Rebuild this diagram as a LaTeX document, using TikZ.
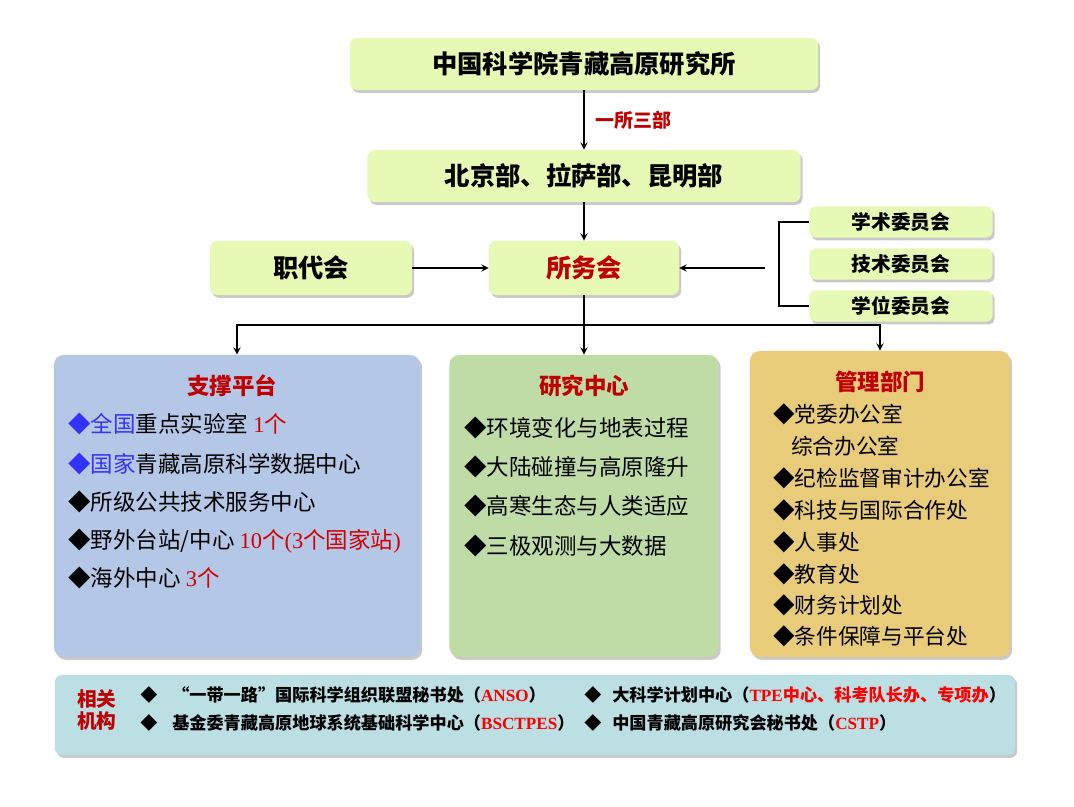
\documentclass[tikz,border=0pt]{standalone}
\usepackage{fontspec}
\setmainfont{Noto Sans CJK SC}
\newfontfamily\tnr{Liberation Serif}
\usetikzlibrary{shadows}
\definecolor{boxgreen}{RGB}{230,250,182}
\definecolor{platblue}{RGB}{180,199,231}
\definecolor{resgreen}{RGB}{192,220,166}
\definecolor{mgold}{RGB}{233,204,122}
\definecolor{linkcyan}{RGB}{188,223,227}
\definecolor{darkred}{RGB}{192,0,0}
\definecolor{numred}{RGB}{210,0,0}
\definecolor{brightred}{RGB}{255,0,0}
\definecolor{itemblue}{RGB}{51,51,255}
\begin{document}
\begin{tikzpicture}[x=0.025cm, y=-0.025cm,
		boxshadow/.style={drop shadow={shadow xshift=1.5pt, shadow yshift=-2pt, opacity=0.35, fill=black!60}},
		gbox/.style={fill=boxgreen, rounded corners=5pt, boxshadow, inner sep=0pt, font=\bfseries\fontsize{18}{20}\selectfont},
		cbox/.style={fill=boxgreen, rounded corners=4pt, boxshadow, inner sep=0pt, minimum width=4.575cm, minimum height=0.78cm, font=\bfseries\fontsize{14}{16}\selectfont},
		bigbox/.style={rounded corners=7pt, boxshadow, inner sep=0pt},
		boxtitle/.style={text=darkred, font=\bfseries\fontsize{16}{18}\selectfont},
		item/.style={anchor=west, inner sep=0pt, font=\fontsize{16}{18}\selectfont},
		mitem/.style={anchor=west, inner sep=0pt, font=\fontsize{15.4}{17}\selectfont},
		litem/.style={anchor=west, inner sep=0pt, font=\bfseries\fontsize{12.2}{14}\selectfont},
		conn/.style={-stealth, line width=1.3pt},
		link/.style={line width=1.3pt}]
	\useasboundingbox (0,0) rectangle (1074,807);
	\fill[white] (0,0) rectangle (1074,807);

	\node[gbox, minimum width=11.7cm, minimum height=1.3cm] (inst) at (584,64) {中国科学院青藏高原研究所};
	\node[gbox, minimum width=10.825cm, minimum height=1.3cm] (bj) at (584,176) {北京部、拉萨部、昆明部};
	\node[gbox, minimum width=4.75cm, minimum height=1.35cm, text=darkred] (swh) at (584,268) {所务会};
	\node[gbox, minimum width=5.05cm, minimum height=1.35cm] (zdh) at (311,268) {职代会};

	\node[cbox] (xs) at (901,222) {学术委员会};
	\node[cbox] (js) at (901,264) {技术委员会};
	\node[cbox] (xw) at (901,306) {学位委员会};

	\draw[conn] (inst) -- node[right, text=darkred, font=\bfseries\fontsize{13.5}{15}\selectfont, xshift=4pt] (ysb) {一所三部} (bj);
	\draw[conn] (bj) -- (swh);
	\draw[conn] (zdh) -- (swh);
	\coordinate (cin) at (765,268);
	\draw[conn] (cin) -- (swh);
	\draw[link] (xs.west) -- ++(-30,0) |- (xw.west);

	\node[bigbox, fill=platblue, minimum width=9.15cm, minimum height=7.55cm] (plat) at (237,506) {};
	\node[bigbox, fill=resgreen, minimum width=6.725cm, minimum height=7.55cm] (res) at (584,506) {};
	\node[bigbox, fill=mgold, minimum width=6.5cm, minimum height=7.65cm] (mgmt) at (880,504) {};

	\draw[conn] (swh.south) -- ++(0,30) -| (plat.north);
	\draw[conn] (swh.south) -- (res.north);
	\draw[conn] (swh.south) -- ++(0,30) -| (mgmt.north);

	\node[boxtitle] (platt) at (232,386) {支撑平台};
	\node[item] (p1) at (68,424) {{\color{itemblue}◆全国}重点实验室 {\color{numred}{\tnr 1}个}};
	\node[item] (p2) at (68,464) {{\color{itemblue}◆国家}青藏高原科学数据中心};
	\node[item] (p3) at (68,502) {◆所级公共技术服务中心};
	\node[item] (p4) at (68,541) {◆野外台站/中心 {\color{numred}{\tnr 10}个{\tnr (3}个国家站{\tnr )}}};
	\node[item] (p5) at (68,578) {◆海外中心 {\color{numred}{\tnr 3}个}};

	\node[boxtitle] (rest) at (584,386) {研究中心};
	\node[item] (r1) at (464,428) {◆环境变化与地表过程};
	\node[item] (r2) at (464,467) {◆大陆碰撞与高原隆升};
	\node[item] (r3) at (464,506) {◆高寒生态与人类适应};
	\node[item] (r4) at (464,546) {◆三极观测与大数据};

	\node[boxtitle] (mgmtt) at (880,382) {管理部门};
	\node[mitem] (m1) at (773,414) {◆党委办公室};
	\node[mitem] (m2) at (791,446) {综合办公室};
	\node[mitem] (m3) at (773,478) {◆纪检监督审计办公室};
	\node[mitem] (m4) at (773,510) {◆科技与国际合作处};
	\node[mitem] (m5) at (773,542) {◆人事处};
	\node[mitem] (m6) at (773,574) {◆教育处};
	\node[mitem] (m7) at (773,605) {◆财务计划处};
	\node[mitem] (m8) at (773,636) {◆条件保障与平台处};

	\node[bigbox, fill=linkcyan, rounded corners=5pt, minimum width=24cm, minimum height=2cm] (rel) at (535,715) {};
	\node[text=darkred, font=\bfseries\fontsize{14}{16}\selectfont, align=center, inner sep=0pt] (relt) at (97,710) {相关\\机构};
	\node[litem] (d1) at (140,695) {◆};
	\node[litem] (l1) at (172,695) {“一带一路”国际科学组织联盟秘书处（{\color{brightred}\tnr ANSO}）};
	\node[litem] (d2) at (140,723) {◆};
	\node[litem] (l2) at (172,723) {基金委青藏高原地球系统基础科学中心（{\color{brightred}\tnr BSCTPES}）};
	\node[litem] (d3) at (584,695) {◆};
	\node[litem] (l3) at (612,695) {大科学计划中心（{\color{brightred}{\tnr TPE}中心、科考队长办、专项办}）};
	\node[litem] (d4) at (584,723) {◆};
	\node[litem] (l4) at (612,723) {中国青藏高原研究会秘书处（{\color{brightred}\tnr CSTP}）};
\end{tikzpicture}
\end{document}
